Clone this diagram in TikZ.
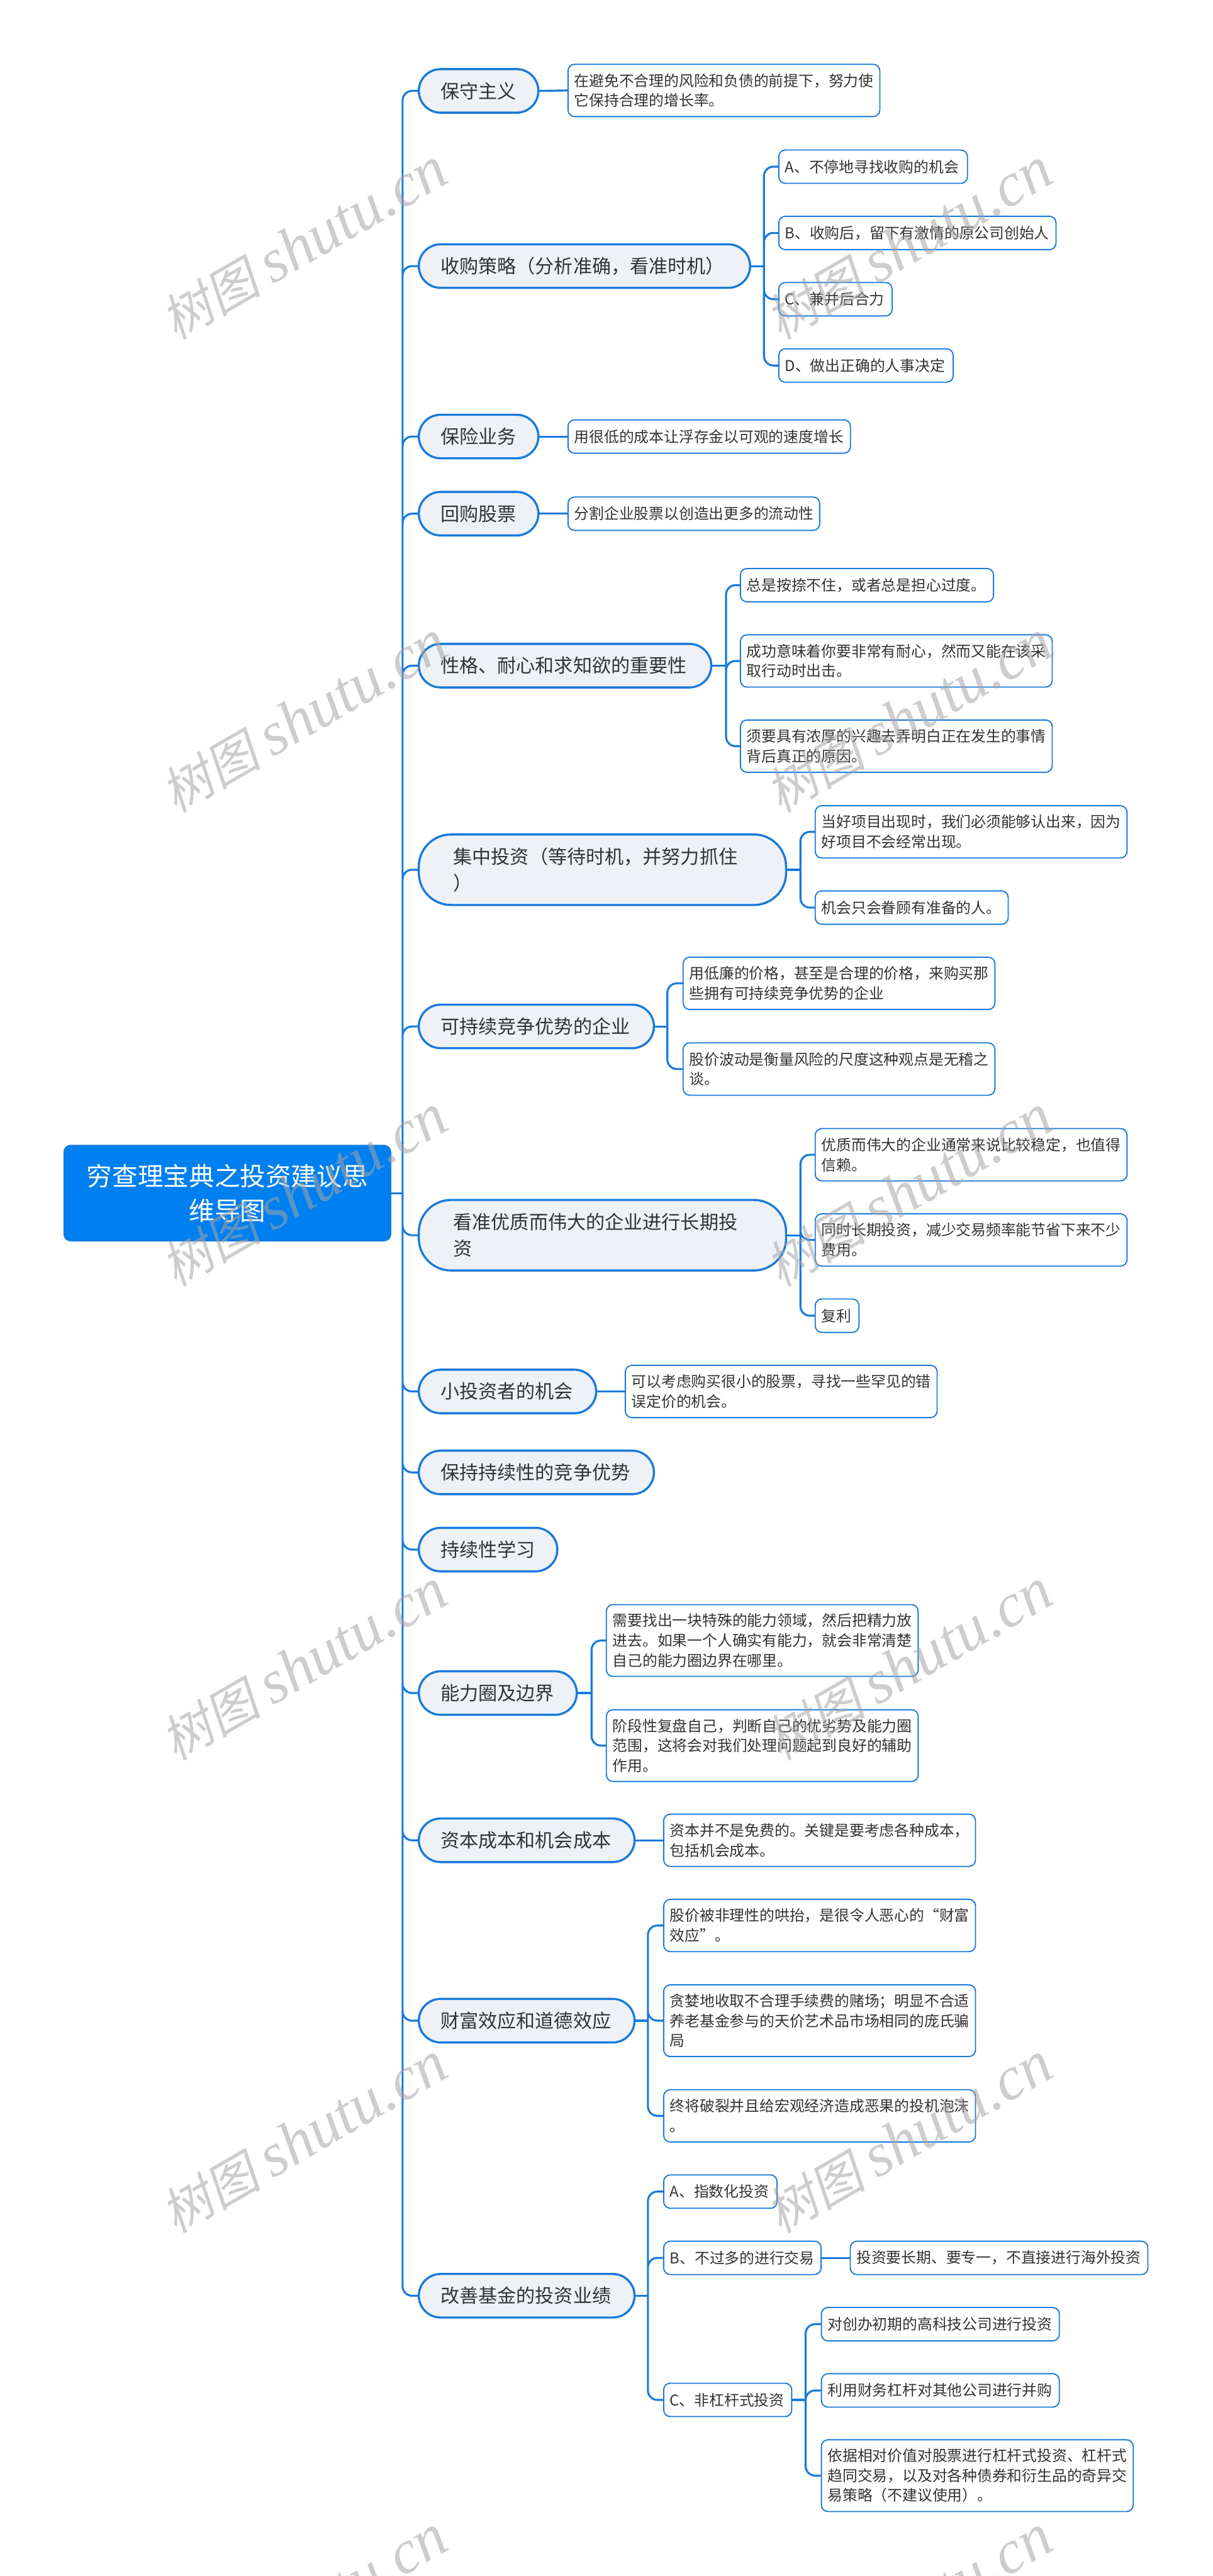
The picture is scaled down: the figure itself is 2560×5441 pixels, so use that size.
\documentclass[tikz,border=0pt]{standalone}
\usepackage{fontspec}
\setmainfont{Noto Sans CJK SC}
\newfontfamily\MarkCjk[FakeSlant=0.2]{Noto Sans CJK SC}
\newfontfamily\MarkLatin{Liberation Serif}
\newcommand{\MarkWords}{{\fontsize{53}{58}\MarkCjk\selectfont 树图}\hspace{12pt}{\fontsize{65}{58}\MarkLatin\itshape\selectfont shutu.cn}}
\definecolor{LineClr}{RGB}{24,122,220}
\definecolor{RootClr}{RGB}{0,127,240}
\definecolor{BranchFillClr}{RGB}{238,242,246}
\definecolor{TextClr}{RGB}{51,51,51}
\definecolor{MarkClr}{RGB}{164,164,164}
\tikzset{
  RootNode/.style={draw=LineClr,fill=RootClr,line width=1pt,rounded corners=7pt,anchor=west,align=center,inner sep=0pt,
    text width=345pt,minimum height=101pt,font=\fontsize{27}{36.5}\selectfont,text=white},
  BranchNode/.style={draw=LineClr,fill=BranchFillClr,line width=2.25pt,rounded corners=23pt,anchor=west,align=left,
    inner xsep=23pt,inner ysep=0pt,minimum height=46pt,font=\fontsize{20}{27.5}\selectfont,text=TextClr,text width=#1},
  TallBranch/.style={rounded corners=34pt,inner xsep=36.5pt,minimum height=74.5pt},
  LeafNode/.style={draw=LineClr,fill=white,line width=1.25pt,rounded corners=7pt,anchor=west,align=left,
    inner xsep=6.6pt,inner ysep=0pt,minimum height=35.25pt,font=\fontsize{15.8}{21}\selectfont,text=TextClr,text width=#1},
  LeafNode/.default=316pt,
  TwoLines/.style={minimum height=55.25pt},
  ThreeLines/.style={minimum height=75.75pt},
  BranchLine/.style={draw=LineClr,line width=2.1pt},
  ElbowLine/.style={BranchLine,rounded corners=10pt},
  MarkText/.style={rotate=30,text=MarkClr,text opacity=.55,inner sep=0pt}
}

\begin{document}
\begin{tikzpicture}[x=.5pt,y=-.5pt]
\useasboundingbox (0,0) rectangle (2560,5441);

\coordinate (T0) at (850,0);
\coordinate (T2) at (1613,0);
\coordinate (T5) at (1533,0);
\coordinate (T6) at (1690,0);
\coordinate (T7) at (1409,0);
\coordinate (T12) at (1249,0);
\coordinate (T14) at (1368,0);
\coordinate (T15c) at (1701,0);

\node[RootNode] (Root) at (134,2520) {穷查理宝典之投资建议思\\维导图};

\node[BranchNode=80.25pt] (B1) at (882,192) {保守主义};
\node[BranchNode=303.75pt] (B2) at (882,562) {收购策略（分析准确，看准时机）};
\node[BranchNode=80.25pt] (B3) at (882,922) {保险业务};
\node[BranchNode=80.25pt] (B4) at (882,1085) {回购股票};
\node[BranchNode=262.75pt] (B5) at (882,1406) {性格、耐心和求知欲的重要性};
\node[BranchNode=314.75pt,TallBranch] (B6) at (882,1837) {集中投资（等待时机，并努力抓住\\）};
\node[BranchNode=202.25pt] (B7) at (882,2168) {可持续竞争优势的企业};
\node[BranchNode=314.75pt,TallBranch] (B8) at (882,2609) {看准优质而伟大的企业进行长期投\\资};
\node[BranchNode=141.25pt] (B9) at (882,2939) {小投资者的机会};
\node[BranchNode=202.25pt] (B10) at (882,3110) {保持持续性的竞争优势};
\node[BranchNode=100.25pt] (B11) at (882,3273) {持续性学习};
\node[BranchNode=120.75pt] (B12) at (882,3576) {能力圈及边界};
\node[BranchNode=181.75pt] (B13) at (882,3887) {资本成本和机会成本};
\node[BranchNode=181.75pt] (B14) at (882,4268) {财富效应和道德效应};
\node[BranchNode=181.75pt] (B15) at (882,4849) {改善基金的投资业绩};

\node[LeafNode,TwoLines] (B1a) at (1198,191) {在避免不合理的风险和负债的前提下，努力使\\它保持合理的增长率。};

\node[LeafNode=186pt] (B2a) at (1643,352) {A、不停地寻找收购的机会};
\node[LeafNode=279.5pt] (B2b) at (1643,492) {B、收购后，留下有激情的原公司创始人};
\node[LeafNode=106.5pt] (B2c) at (1643,632) {C、兼并后合力};
\node[LeafNode=171pt] (B2d) at (1643,772) {D、做出正确的人事决定};

\node[LeafNode=285pt] (B3a) at (1198,922) {用很低的成本让浮存金以可观的速度增长};
\node[LeafNode=252.5pt] (B4a) at (1198,1085) {分割企业股票以创造出更多的流动性};

\node[LeafNode=254pt] (B5a) at (1562,1236) {总是按捺不住，或者总是担心过度。};
\node[LeafNode,TwoLines] (B5b) at (1562,1396) {成功意味着你要非常有耐心，然而又能在该采\\取行动时出击。};
\node[LeafNode,TwoLines] (B5c) at (1562,1576) {须要具有浓厚的兴趣去弄明白正在发生的事情\\背后真正的原因。};

\node[LeafNode,TwoLines] (B6a) at (1720,1757) {当好项目出现时，我们必须能够认出来，因为\\好项目不会经常出现。};
\node[LeafNode=190.5pt] (B6b) at (1720,1917) {机会只会眷顾有准备的人。};

\node[LeafNode,TwoLines] (B7a) at (1441,2077) {用低廉的价格，甚至是合理的价格，来购买那\\些拥有可持续竞争优势的企业};
\node[LeafNode,TwoLines] (B7b) at (1441,2258) {股价波动是衡量风险的尺度这种观点是无稽之\\谈。};

\node[LeafNode,TwoLines] (B8a) at (1720,2439) {优质而伟大的企业通常来说比较稳定，也值得\\信赖。};
\node[LeafNode,TwoLines] (B8b) at (1720,2619) {同时长期投资，减少交易频率能节省下来不少\\费用。};
\node[LeafNode=33pt] (B8c) at (1720,2779) {复利};

\node[LeafNode,TwoLines] (B9a) at (1319,2939) {可以考虑购买很小的股票，寻找一些罕见的错\\误定价的机会。};

\node[LeafNode,ThreeLines] (B12a) at (1279,3465) {需要找出一块特殊的能力领域，然后把精力放\\进去。如果一个人确实有能力，就会非常清楚\\自己的能力圈边界在哪里。};
\node[LeafNode,ThreeLines] (B12b) at (1279,3687) {阶段性复盘自己，判断自己的优劣势及能力圈\\范围，这将会对我们处理问题起到良好的辅助\\作用。};

\node[LeafNode,TwoLines] (B13a) at (1400,3887) {资本并不是免费的。关键是要考虑各种成本，\\包括机会成本。};

\node[LeafNode,TwoLines] (B14a) at (1400,4067) {股价被非理性的哄抬，是很令人恶心的“财富\\效应”。};
\node[LeafNode,ThreeLines] (B14b) at (1400,4268) {贪婪地收取不合理手续费的赌场；明显不合适\\养老基金参与的天价艺术品市场相同的庞氏骗\\局};
\node[LeafNode,TwoLines] (B14c) at (1400,4469) {终将破裂并且给宏观经济造成恶果的投机泡沫\\。};

\node[LeafNode=106.5pt] (B15a) at (1400,4629) {A、指数化投资};
\node[LeafNode=153pt] (B15b) at (1400,4769) {B、不过多的进行交易};
\node[LeafNode=122pt] (B15c) at (1400,5069) {C、非杠杆式投资};
\node[LeafNode=301pt] (B15b1) at (1794,4769) {投资要长期、要专一，不直接进行海外投资};
\node[LeafNode=238pt] (B15c1) at (1733,4909) {对创办初期的高科技公司进行投资};
\node[LeafNode=238pt] (B15c2) at (1733,5049) {利用财务杠杆对其他公司进行并购};
\node[LeafNode,ThreeLines] (B15c3) at (1733,5229) {依据相对价值对股票进行杠杆式投资、杠杆式\\趋同交易，以及对各种债券和衍生品的奇异交\\易策略（不建议使用）。};

\draw[BranchLine] (Root.east) -- (Root.east -| T0);
\draw[ElbowLine] (Root.east -| T0) |- (B1.west) (Root.east -| T0) |- (B2.west) (Root.east -| T0) |- (B3.west)
  (Root.east -| T0) |- (B4.west) (Root.east -| T0) |- (B5.west) (Root.east -| T0) |- (B6.west)
  (Root.east -| T0) |- (B7.west) (Root.east -| T0) |- (B8.west) (Root.east -| T0) |- (B9.west)
  (Root.east -| T0) |- (B10.west) (Root.east -| T0) |- (B11.west) (Root.east -| T0) |- (B12.west)
  (Root.east -| T0) |- (B13.west) (Root.east -| T0) |- (B14.west) (Root.east -| T0) |- (B15.west);

\draw[BranchLine] (B1.east) -- (B1a.west);
\draw[BranchLine] (B3.east) -- (B3a.west);
\draw[BranchLine] (B4.east) -- (B4a.west);
\draw[BranchLine] (B9.east) -- (B9a.west);
\draw[BranchLine] (B13.east) -- (B13a.west);
\draw[BranchLine] (B15b.east) -- (B15b1.west);

\draw[BranchLine] (B2.east) -- (B2.east -| T2);
\draw[ElbowLine] (B2.east -| T2) |- (B2a.west) (B2.east -| T2) |- (B2b.west) (B2.east -| T2) |- (B2c.west) (B2.east -| T2) |- (B2d.west);

\draw[BranchLine] (B5.east) -- (B5.east -| T5);
\draw[ElbowLine] (B5.east -| T5) |- (B5a.west) (B5.east -| T5) |- (B5b.west) (B5.east -| T5) |- (B5c.west);

\draw[BranchLine] (B6.east) -- (B6.east -| T6);
\draw[ElbowLine] (B6.east -| T6) |- (B6a.west) (B6.east -| T6) |- (B6b.west);

\draw[BranchLine] (B7.east) -- (B7.east -| T7);
\draw[ElbowLine] (B7.east -| T7) |- (B7a.west) (B7.east -| T7) |- (B7b.west);

\draw[BranchLine] (B8.east) -- (B8.east -| T6);
\draw[ElbowLine] (B8.east -| T6) |- (B8a.west) (B8.east -| T6) |- (B8b.west) (B8.east -| T6) |- (B8c.west);

\draw[BranchLine] (B12.east) -- (B12.east -| T12);
\draw[ElbowLine] (B12.east -| T12) |- (B12a.west) (B12.east -| T12) |- (B12b.west);

\draw[BranchLine] (B14.east) -- (B14.east -| T14);
\draw[ElbowLine] (B14.east -| T14) |- (B14a.west) (B14.east -| T14) |- (B14b.west) (B14.east -| T14) |- (B14c.west);

\draw[BranchLine] (B15.east) -- (B15.east -| T14);
\draw[ElbowLine] (B15.east -| T14) |- (B15a.west) (B15.east -| T14) |- (B15b.west) (B15.east -| T14) |- (B15c.west);

\draw[BranchLine] (B15c.east) -- (B15c.east -| T15c);
\draw[ElbowLine] (B15c.east -| T15c) |- (B15c1.west) (B15c.east -| T15c) |- (B15c2.west) (B15c.east -| T15c) |- (B15c3.west);

% watermark
\begin{scope}
\clip (0,0) rectangle (2560,5441);
\node[MarkText] (M1) at (642,516) {\MarkWords};
\node[MarkText] (M2) at (1919,516) {\MarkWords};
\node[MarkText] (M3) at (642,1515) {\MarkWords};
\node[MarkText] (M4) at (1919,1515) {\MarkWords};
\node[MarkText] (M5) at (642,2516) {\MarkWords};
\node[MarkText] (M6) at (1919,2516) {\MarkWords};
\node[MarkText] (M7) at (642,3517) {\MarkWords};
\node[MarkText] (M8) at (1919,3517) {\MarkWords};
\node[MarkText] (M9) at (642,4516) {\MarkWords};
\node[MarkText] (M10) at (1919,4516) {\MarkWords};
\node[MarkText] (M11) at (642,5516) {\MarkWords};
\node[MarkText] (M12) at (1919,5516) {\MarkWords};
\end{scope}

\end{tikzpicture}
\end{document}
